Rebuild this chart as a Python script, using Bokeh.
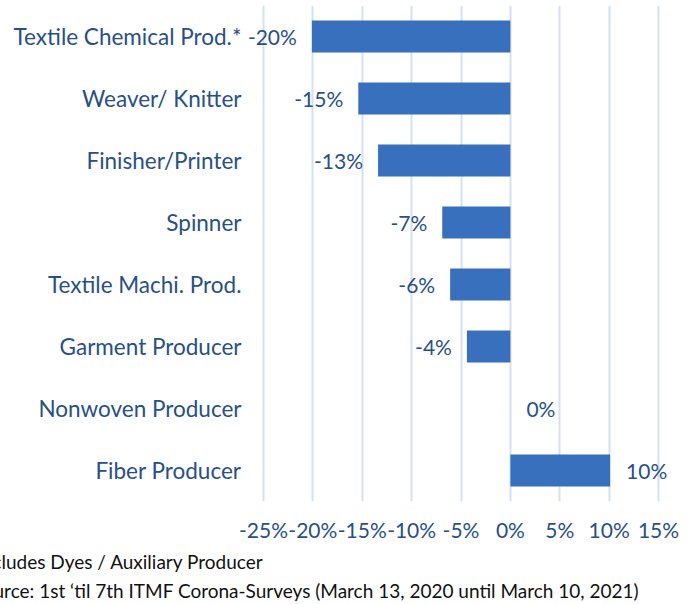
from bokeh.plotting import figure
from bokeh.models import ColumnDataSource, FixedTicker, Title
from bokeh.core.properties import value
from bokeh.embed import file_html
from bokeh.resources import INLINE

categories = ["Textile Chemical Prod.*", "Weaver/ Knitter", "Finisher/Printer", "Spinner",
              "Textile Machi. Prod.", "Garment Producer", "Nonwoven Producer", "Fiber Producer"]
values = [-20.1, -15.4, -13.4, -6.9, -6.1, -4.4, 0.0, 10.1]
x_ticks = [-25, -20, -15, -10, -5, 0, 5, 10, 15]
x_tick_labels = ["-25%", "-20%", "-15%", "-10%", "-5%", "0%", "5%", "10%", "15%"]
footnote = "*Includes Dyes / Auxiliary Producer"
source_note = "Source: 1st \u2018til 7th ITMF Corona-Surveys (March 13, 2020 until March 10, 2021)"

FONT = "Lato"
TXT = "#27508a"
n = len(categories)
ypos = [n - 1 - i for i in range(n)]

src = ColumnDataSource(dict(
    y=ypos, v=values,
    lab=[f"{round(v):d}%" for v in values],
    xoff=[-15 if v < 0 else 16 for v in values],
    align=["right" if v < 0 else "left" for v in values],
))

PX = 49.4 / 5.0  # pixels per percentage point
x_start = -25 - 18 / PX
x_end = 15 + 33 / PX

p = figure(width=691, height=604, output_backend="svg", toolbar_location=None,
           x_range=(x_start, x_end), y_range=(-0.5, 7.5),
           min_border_left=245, min_border_right=0, min_border_top=5, min_border_bottom=103)
p.outline_line_color = None
p.background_fill_color = "white"
p.border_fill_color = "white"

p.hbar(y="y", right="v", left=0, height=0.52, source=src,
       fill_color="#3870bd", line_color=None)
p.text(x="v", y="y", text="lab", source=src, x_offset="xoff", text_align="align",
       text_baseline="middle", text_font=value(FONT), text_font_size="21px", text_color=TXT)

p.xaxis.ticker = FixedTicker(ticks=x_ticks)
p.xaxis.major_label_overrides = {t: l for t, l in zip(x_ticks, x_tick_labels)}
p.yaxis.ticker = FixedTicker(ticks=ypos)
p.yaxis.major_label_overrides = {y: c for y, c in zip(ypos, categories)}
for ax in (p.xaxis, p.yaxis):
    ax.axis_line_color = None
    ax.major_tick_line_color = None
    ax.minor_tick_line_color = None
    ax.major_tick_out = 0
    ax.major_tick_in = 0
    ax.major_label_text_font = FONT
    ax.major_label_text_color = TXT
p.xaxis.major_label_text_font_size = "21px"
p.yaxis.major_label_text_font_size = "22.5px"
p.yaxis.major_label_standoff = 4
p.xaxis.major_label_standoff = 15

p.xgrid.ticker = FixedTicker(ticks=x_ticks)
p.xgrid.grid_line_color = "#d5e1f1"
p.xgrid.grid_line_width = 2
p.ygrid.grid_line_color = None

p.add_layout(Title(text=footnote, align="left", offset=-277, text_font=FONT,
                   text_font_size="19px", text_font_style="normal", text_color="#111111",
                   standoff=6), "below")
p.add_layout(Title(text=source_note, align="left", offset=-273, text_font=FONT,
                   text_font_size="19px", text_font_style="normal", text_color="#111111",
                   standoff=3), "below")

open("out.html", "w").write(file_html(p, INLINE))
